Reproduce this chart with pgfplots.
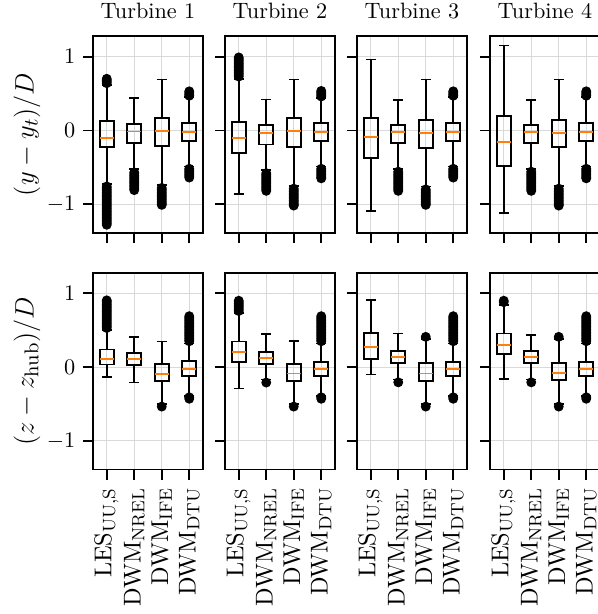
\documentclass[border=0pt]{standalone}
\usepackage{pgfplots}
\pgfplotsset{compat=1.18}
\usepgfplotslibrary{statistics}
\definecolor{mplorange}{HTML}{FF7F0E}
\newcommand{\bx}[7]{\addplot[bxs, boxplot prepared={draw position=#1, lower whisker=#2, lower quartile=#3, median=#4, upper quartile=#5, upper whisker=#6}] table[row sep=\\, y index=0]{d\\#7};}
\pgfplotsset{
  bxs/.style={black, line width=0.8pt, solid, mark=*, mark size=1.8pt,
    mark options={fill=black, draw=black, solid},
    boxplot/box extend=0.5, boxplot/whisker extend=0.36,
    boxplot/every median/.style={draw=mplorange, line width=0.8pt}},
  panel/.style={scale only axis, width=49.5pt, height=88.6pt, anchor=north west,
    xmin=0.5, xmax=4.5, ymin=-1.39, ymax=1.28,
    xtick={1,2,3,4}, ytick={-1,0,1},
    xmajorgrids, ymajorgrids, grid style={gray!30, line width=0.5pt},
    axis line style={line width=0.8pt},
    tick align=outside, tick pos=left, major tick length=4.5pt,
    every tick/.style={black, line width=0.8pt},
    boxplot/draw direction=y,
    every axis title shift=0pt,
    title style={anchor=base, at={(0.5,1)}, yshift=8.1pt, font=\fontsize{10}{12}\selectfont},
    every axis y label/.style={at={([xshift=-29.7pt]axis description cs:0,0.5)}, rotate=90, anchor=center, font=\fontsize{12.5}{15}\selectfont},
    yticklabel style={font=\fontsize{10}{12}\selectfont},
    xticklabel style={rotate=90, anchor=east, font=\fontsize{11}{13}\selectfont},
  },
  toprow/.style={xticklabels={}},
  botrow/.style={xticklabels={{$\mathrm{LES}_\mathrm{UU,S}$},{$\mathrm{DWM}_\mathrm{NREL}$},{$\mathrm{DWM}_\mathrm{IFE}$},{$\mathrm{DWM}_\mathrm{DTU}$}}},
  noy/.style={yticklabels={}},
}
\begin{document}
\begin{tikzpicture}
% ---------------- top row: (y - y_t)/D ----------------
\begin{axis}[panel, toprow, at={(41.85pt,-16.2pt)}, title={Turbine 1}, ylabel={$(y-y_t)/D$}]
\bx{1}{-0.73}{-0.227}{-0.10}{0.127}{0.62}{0.64\\0.66\\0.68\\0.70\\-0.76\\-0.78\\-0.80\\-0.82\\-0.84\\-0.86\\-0.88\\-0.90\\-0.92\\-0.94\\-0.96\\-0.98\\-1.00\\-1.02\\-1.04\\-1.06\\-1.08\\-1.10\\-1.12\\-1.14\\-1.16\\-1.18\\-1.20\\-1.22\\-1.24\\-1.26\\-1.28\\}
\bx{2}{-0.52}{-0.172}{-0.014}{0.082}{0.44}{-0.57\\-0.59\\-0.61\\-0.63\\-0.65\\-0.67\\-0.69\\-0.71\\-0.73\\-0.75\\-0.77\\-0.79\\-0.81\\}
\bx{3}{-0.74}{-0.209}{-0.005}{0.168}{0.69}{-0.78\\-0.80\\-0.82\\-0.84\\-0.86\\-0.88\\-0.90\\-0.92\\-0.94\\-0.96\\-0.98\\-1.00\\-1.01\\}
\bx{4}{-0.49}{-0.145}{-0.023}{0.104}{0.45}{0.47\\0.49\\0.51\\0.53\\-0.52\\-0.54\\-0.56\\-0.58\\-0.60\\-0.62\\-0.64\\}
\end{axis}
\begin{axis}[panel, toprow, noy, at={(101.25pt,-16.2pt)}, title={Turbine 2}]
\bx{1}{-0.86}{-0.304}{-0.10}{0.113}{0.70}{0.73\\0.75\\0.77\\0.79\\0.81\\0.83\\0.85\\0.87\\0.89\\0.91\\0.93\\0.95\\0.97\\0.99\\}
\bx{2}{-0.54}{-0.19}{-0.032}{0.068}{0.42}{-0.58\\-0.60\\-0.62\\-0.64\\-0.66\\-0.68\\-0.70\\-0.72\\-0.74\\-0.76\\-0.78\\-0.80\\-0.82\\}
\bx{3}{-0.75}{-0.22}{-0.005}{0.168}{0.69}{-0.79\\-0.81\\-0.83\\-0.85\\-0.87\\-0.89\\-0.91\\-0.93\\-0.95\\-0.97\\-0.99\\-1.01\\-1.02\\}
\bx{4}{-0.49}{-0.145}{-0.023}{0.104}{0.44}{0.46\\0.48\\0.50\\0.52\\0.535\\-0.52\\-0.54\\-0.56\\-0.58\\-0.60\\-0.62\\-0.64\\-0.65\\}
\end{axis}
\begin{axis}[panel, toprow, noy, at={(160.65pt,-16.2pt)}, title={Turbine 3}]
\bx{1}{-1.09}{-0.376}{-0.09}{0.168}{0.96}{}
\bx{2}{-0.52}{-0.172}{-0.023}{0.077}{0.417}{-0.56\\-0.58\\-0.60\\-0.62\\-0.64\\-0.66\\-0.68\\-0.70\\-0.72\\-0.74\\-0.76\\-0.78\\-0.80\\-0.82\\}
\bx{3}{-0.76}{-0.236}{-0.032}{0.145}{0.69}{-0.80\\-0.82\\-0.84\\-0.86\\-0.88\\-0.90\\-0.92\\-0.94\\-0.96\\-0.98\\-1.00\\-1.01\\}
\bx{4}{-0.49}{-0.145}{-0.023}{0.104}{0.45}{0.47\\0.49\\0.51\\0.53\\-0.52\\-0.54\\-0.56\\-0.58\\-0.60\\-0.62\\-0.64\\}
\end{axis}
\begin{axis}[panel, toprow, noy, at={(220.5pt,-16.2pt)}, title={Turbine 4}]
\bx{1}{-1.12}{-0.48}{-0.16}{0.20}{1.15}{}
\bx{2}{-0.52}{-0.172}{-0.023}{0.077}{0.417}{-0.56\\-0.58\\-0.60\\-0.62\\-0.64\\-0.66\\-0.68\\-0.70\\-0.72\\-0.74\\-0.76\\-0.78\\-0.80\\-0.82\\}
\bx{3}{-0.75}{-0.227}{-0.032}{0.145}{0.69}{-0.79\\-0.81\\-0.83\\-0.85\\-0.87\\-0.89\\-0.91\\-0.93\\-0.95\\-0.97\\-0.99\\-1.01\\-1.02\\}
\bx{4}{-0.49}{-0.145}{-0.023}{0.104}{0.45}{0.47\\0.49\\0.51\\0.53\\-0.52\\-0.54\\-0.56\\-0.58\\-0.60\\-0.62\\-0.64\\-0.65\\}
\end{axis}
% ---------------- bottom row: (z - z_hub)/D ----------------
\begin{axis}[panel, botrow, at={(41.85pt,-122.7pt)}, ylabel={$(z-z_\mathrm{hub})/D$}]
\bx{1}{-0.135}{0.036}{0.108}{0.239}{0.50}{0.53\\0.55\\0.57\\0.59\\0.61\\0.63\\0.65\\0.67\\0.69\\0.71\\0.73\\0.75\\0.77\\0.79\\0.81\\0.83\\0.85\\0.87\\0.89\\0.905\\}
\bx{2}{-0.21}{0.023}{0.108}{0.189}{0.41}{}
\bx{3}{-0.50}{-0.185}{-0.095}{0.045}{0.347}{-0.536\\}
\bx{4}{-0.39}{-0.122}{-0.027}{0.077}{0.32}{0.35\\0.37\\0.39\\0.41\\0.43\\0.45\\0.47\\0.49\\0.51\\0.53\\0.55\\0.57\\0.59\\0.61\\0.63\\0.65\\0.67\\0.69\\-0.41\\-0.43\\}
\end{axis}
\begin{axis}[panel, botrow, noy, at={(101.25pt,-122.7pt)}]
\bx{1}{-0.29}{0.068}{0.207}{0.347}{0.73}{0.76\\0.78\\0.80\\0.82\\0.84\\0.86\\0.88\\0.90\\}
\bx{2}{-0.17}{0.041}{0.126}{0.207}{0.446}{-0.21\\}
\bx{3}{-0.50}{-0.185}{-0.086}{0.045}{0.35}{-0.536\\}
\bx{4}{-0.39}{-0.122}{-0.027}{0.072}{0.32}{0.35\\0.37\\0.39\\0.41\\0.43\\0.45\\0.47\\0.49\\0.51\\0.53\\0.55\\0.57\\0.59\\0.61\\0.63\\0.65\\0.67\\0.69\\-0.41\\-0.43\\}
\end{axis}
\begin{axis}[panel, botrow, noy, at={(160.65pt,-122.7pt)}]
\bx{1}{-0.10}{0.113}{0.275}{0.464}{0.905}{}
\bx{2}{-0.17}{0.05}{0.135}{0.22}{0.455}{-0.207\\}
\bx{3}{-0.50}{-0.185}{-0.086}{0.05}{0.38}{0.41\\-0.536\\}
\bx{4}{-0.39}{-0.122}{-0.027}{0.072}{0.32}{0.35\\0.37\\0.39\\0.41\\0.43\\0.45\\0.47\\0.49\\0.51\\0.53\\0.55\\0.57\\0.59\\0.61\\0.63\\0.65\\0.67\\0.69\\-0.41\\-0.43\\}
\end{axis}
\begin{axis}[panel, botrow, noy, at={(220.5pt,-122.7pt)}]
\bx{1}{-0.167}{0.176}{0.297}{0.455}{0.84}{0.88\\0.90\\}
\bx{2}{-0.17}{0.05}{0.135}{0.22}{0.44}{-0.207\\}
\bx{3}{-0.50}{-0.176}{-0.077}{0.059}{0.38}{0.41\\-0.536\\}
\bx{4}{-0.39}{-0.122}{-0.027}{0.072}{0.32}{0.35\\0.37\\0.39\\0.41\\0.43\\0.45\\0.47\\0.49\\0.51\\0.53\\0.55\\0.57\\0.59\\0.61\\0.63\\0.65\\0.67\\0.69\\-0.41\\-0.43\\}
\end{axis}
\pgfresetboundingbox
\useasboundingbox (0,0) rectangle (269.1pt,-276.3pt);
\end{tikzpicture}
\end{document}
